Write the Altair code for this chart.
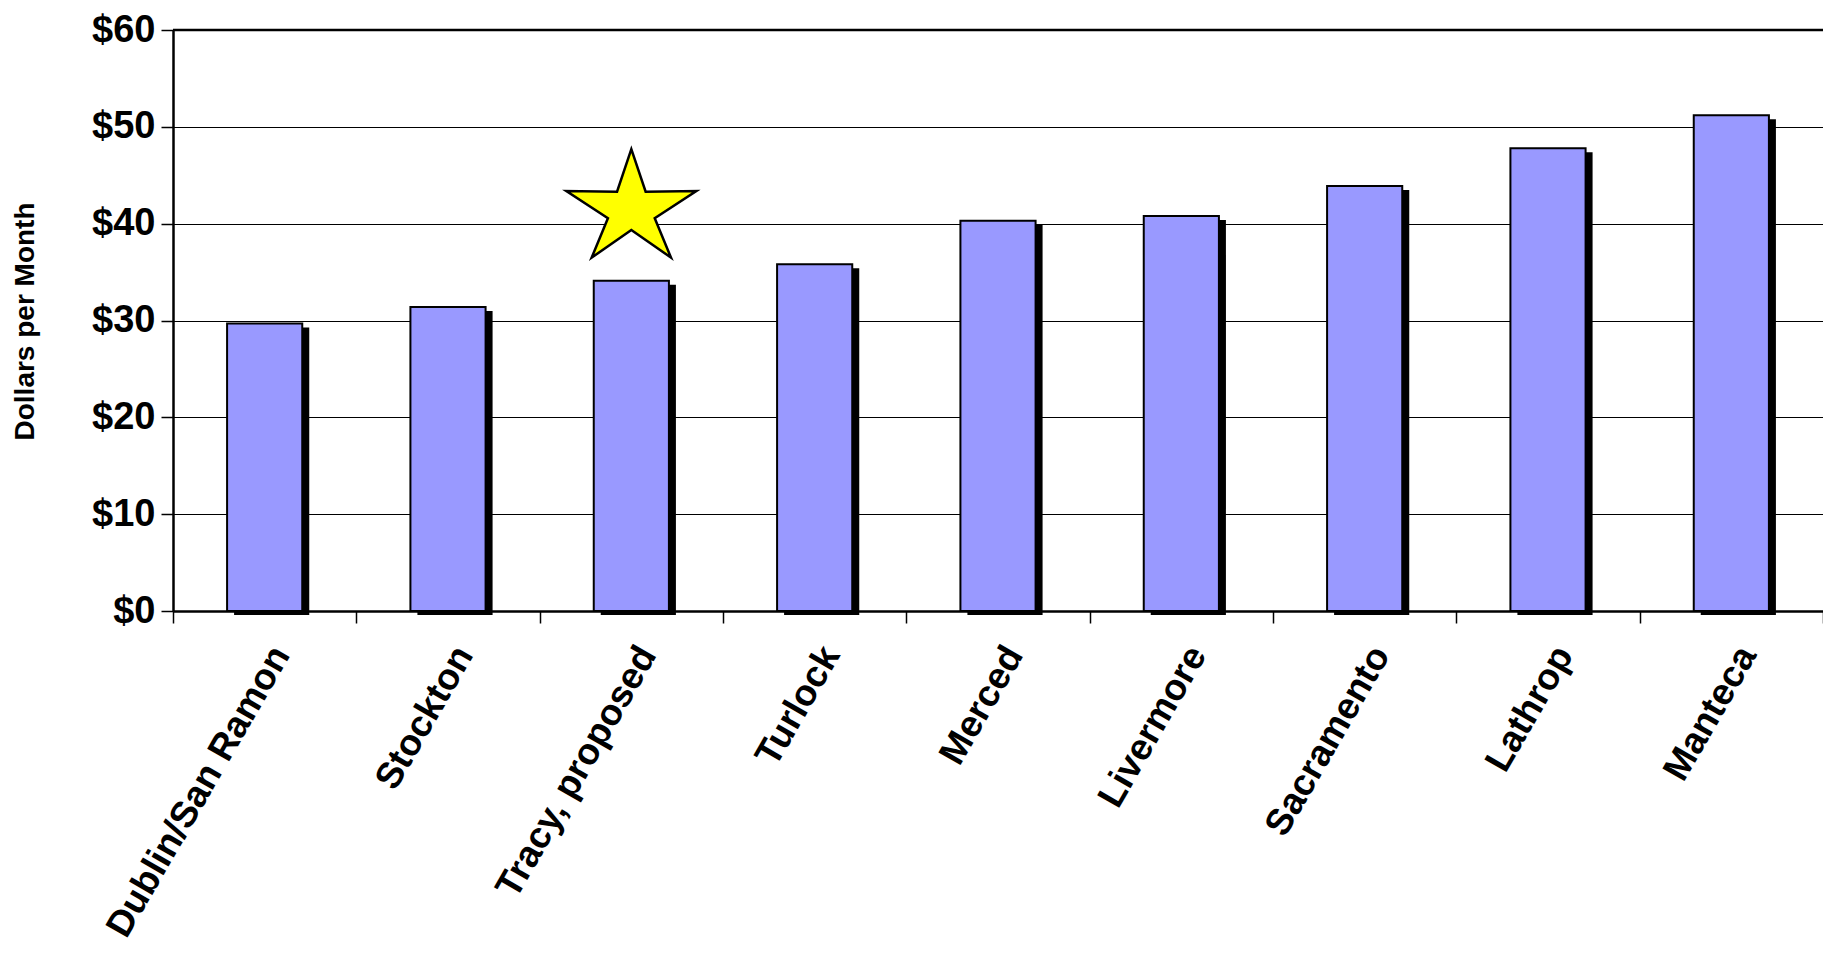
import altair as alt
import pandas as pd

categories = ["Dublin/San Ramon", "Stockton", "Tracy, proposed", "Turlock", "Merced",
              "Livermore", "Sacramento", "Lathrop", "Manteca"]
values = [29.7, 31.4, 34.1, 35.8, 40.3, 40.8, 43.9, 47.8, 51.2]
y_ticks = [0, 10, 20, 30, 40, 50, 60]
star_category = "Tracy, proposed"
star_value = 42.1

df = pd.DataFrame({"city": categories, "cost": values})
star_df = pd.DataFrame({"city": [star_category], "cost": [star_value]})
top_df = pd.DataFrame({"cost": [y_ticks[-1]]})

FONT = "Liberation Sans"
STAR_PATH = ("M0,-0.835 L0.22,-0.18 L1,-0.19 L0.36,0.23 L0.61,0.835 L0,0.41 "
             "L-0.61,0.835 L-0.36,0.23 L-1,-0.19 L-0.22,-0.18 Z")

x_scale = alt.Scale(domain=categories, paddingInner=0, paddingOuter=0)
y_scale = alt.Scale(domain=[y_ticks[0], y_ticks[-1]], nice=False)

x_enc = alt.X(
    "city:N", sort=categories, scale=x_scale,
    axis=alt.Axis(
        title=None, labelAngle=-60, labelAlign="right", labelBaseline="middle",
        labelFont=FONT, labelFontSize=37, labelFontWeight="bold", labelColor="black",
        labelPadding=26, labelOffset=16, labelLimit=800, labelOverlap=False,
        tickBand="extent", tickSize=12, tickColor="black", tickWidth=1.5,
        domainColor="black", domainWidth=2.5, grid=False,
    ),
)
y_enc = alt.Y(
    "cost:Q", scale=y_scale,
    axis=alt.Axis(
        values=y_ticks, labelExpr="'$' + datum.value",
        labelFont=FONT, labelFontSize=38, labelFontWeight="bold", labelColor="black",
        labelPadding=6, tickSize=12, tickColor="black", tickWidth=1.5,
        domainColor="black", domainWidth=2.5,
        grid=True, gridColor="black", gridWidth=1.2,
        title="Dollars per Month", titleFont=FONT, titleFontSize=28, titleFontWeight="bold",
        titleColor="black", titleAngle=270, titleX=-148, titleY=291,
        titleAlign="center", titleBaseline="middle",
    ),
)

BAR_W = alt.RelativeBandSize(0.41)

shadow = alt.Chart(df).mark_bar(
    color="black", width=BAR_W, xOffset=7, yOffset=4, y2Offset=3
).encode(x=x_enc, y=y_enc)
bars = alt.Chart(df).mark_bar(
    fill="#9999FF", stroke="black", strokeWidth=2, width=BAR_W
).encode(x=x_enc, y=y_enc)
top_rule = alt.Chart(top_df).mark_rule(color="black", strokeWidth=2.5).encode(y=y_enc)
star = alt.Chart(star_df).mark_point(
    shape=STAR_PATH, size=16900, filled=True, fill="#FFFF00", stroke="black",
    strokeWidth=2.5, opacity=1,
).encode(x=x_enc, y=y_enc)

chart = alt.layer(shadow, bars, top_rule, star).properties(
    width=1650, height=581,
    padding={"left": 165, "top": 22, "right": 0, "bottom": 340},
    autosize=alt.AutoSizeParams(type="none"),
    background="white",
).configure_view(stroke=None)

chart.save("out.html", embed_options={"renderer": "svg", "actions": False})
